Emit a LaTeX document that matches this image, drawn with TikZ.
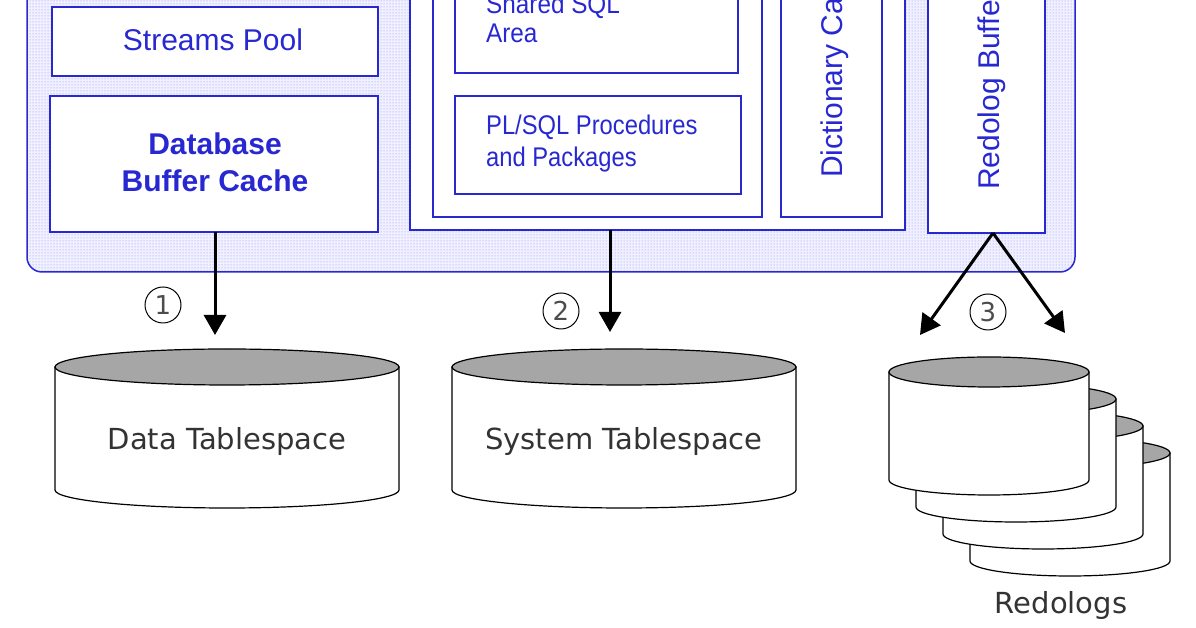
\documentclass[tikz,border=0pt]{standalone}
\usepackage{fontspec}
\setmainfont{Liberation Sans}
\newfontfamily\cylfont{DejaVu Sans}
\usetikzlibrary{patterns,arrows.meta}
\definecolor{sgablue}{RGB}{40,40,210}
\tikzset{
  box/.style={draw=sgablue,line width=1.5pt,fill=white},
  thickbox/.style={draw=sgablue,line width=2.5pt,fill=white},
  lbl/.style={text=sgablue,font=\fontsize{30}{34}\selectfont,inner sep=0pt},
  arr/.style={draw=black,line width=3pt,-{Triangle[length=20pt,width=22pt]}},
  num/.style={circle,draw=black,line width=1pt,minimum size=36pt,inner sep=0pt,font=\cylfont\fontsize{26}{26}\selectfont,text=black!70},
  cyltxt/.style={font=\cylfont\fontsize{29}{32}\selectfont,text=black!80,inner sep=0pt}
}
\newcommand\mycyl[5]{% cx, top y, half width, ry, height
  \filldraw[fill=white,draw=black,line width=1.2pt] (#1-#3,#2) -- (#1-#3,#2-#5) arc[start angle=180,end angle=360,x radius=#3,y radius=#4] -- (#1+#3,#2) -- cycle;
  \filldraw[fill=gray!70,draw=black,line width=1.2pt] (#1,#2) ellipse[x radius=#3,y radius=#4];
}
\begin{document}
\begin{tikzpicture}[x=1pt,y=1pt]
\useasboundingbox (0,0) rectangle (1196,628);
\begin{scope}
\clip (0,0) rectangle (1196,628);
% SGA
\fill[blue!6,rounded corners=15pt] (27,356) rectangle (1075,660);
\path[pattern=dots,pattern color=blue!45,rounded corners=15pt] (27,356) rectangle (1075,660);
\draw[draw=sgablue,line width=1.5pt,rounded corners=15pt] (27,356) rectangle (1075,660);
\draw[box] (52,552) rectangle (378,621);
\node[lbl] (sp) at (213,588) {Streams Pool};
\draw[thickbox] (50,396) rectangle (378,532);
\node[lbl,font=\bfseries\fontsize{30}{37}\selectfont,align=center] (dbc) at (215,466) {Database\\Buffer Cache};
\draw[thickbox] (410,398) rectangle (905,650);
\draw[box] (433,411) rectangle (762,650);
\draw[box] (455,555) rectangle (738,650);
\node[lbl,font=\fontsize{27}{29}\selectfont,align=left,anchor=base west,xscale=0.9] (sql) at (486,585) {Shared SQL\\Area};
\draw[box] (455,434) rectangle (741,532);
\node[lbl,font=\fontsize{27}{32}\selectfont,align=left,anchor=west,xscale=0.88] (pl) at (486,484) {PL/SQL Procedures\\and Packages};
\draw[box] (781,411) rectangle (882,650);
\node[lbl,rotate=90,anchor=base west] (dict) at (842,450) {Dictionary Cache};
\draw[box] (928,395) rectangle (1045,650);
\node[lbl,rotate=90,anchor=base west] (redo) at (999,438) {Redolog Buffer};
\end{scope}
\coordinate (dbcb) at (215,396);
\coordinate (spb) at (610,398);
\coordinate (rbb) at (993,395);
% cylinders
\mycyl{227}{261}{172}{18}{123}
\node[cyltxt] (data) at (227,186) {Data Tablespace};
\mycyl{624}{261}{172}{18}{123}
\node[cyltxt] (sys) at (624,186) {System Tablespace};
\foreach \i in {3,2,1,0}{
  \mycyl{989+27*\i}{256-27*\i}{100}{15}{108}
}
\node[cyltxt] (redologs) at (1061,22) {Redologs};
\coordinate (d1) at (215,293);
\coordinate (d2) at (610,296);
\coordinate (r1) at (920,293);
\coordinate (r2) at (1065,295);
\draw[arr] (dbcb) -- (d1);
\draw[arr] (spb) -- (d2);
\draw[arr] (rbb) -- (r1);
\draw[arr] (rbb) -- (r2);
\node[num] (n1) at (163,323) {1};
\node[num] (n2) at (561,317) {2};
\node[num] (n3) at (988,316) {3};
\end{tikzpicture}
\end{document}
